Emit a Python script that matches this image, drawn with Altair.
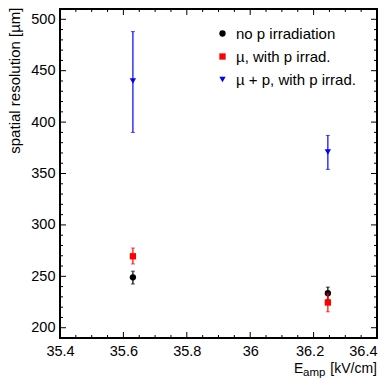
import altair as alt
import pandas as pd

# ---- data ----
x_vals = [35.63, 36.245]
series_names = ["no p irradiation", "µ, with p irrad.", "µ + p, with p irrad."]

res_black = [249.0, 233.5]
lo_black = [242.5, 227.5]
hi_black = [255.0, 239.5]

res_red = [269.5, 224.5]
lo_red = [262.0, 215.5]
hi_red = [277.5, 233.0]

res_blue = [440.0, 371.0]
lo_blue = [390.0, 354.0]
hi_blue = [488.0, 387.0]

x_major = [35.4, 35.6, 35.8, 36.0, 36.2, 36.4]
x_minor = [35.45, 35.5, 35.55, 35.65, 35.7, 35.75, 35.85, 35.9, 35.95,
           36.05, 36.1, 36.15, 36.25, 36.3, 36.35]
y_major = [200, 250, 300, 350, 400, 450, 500]
y_minor = [210, 220, 230, 240, 260, 270, 280, 290, 310, 320, 330, 340,
           360, 370, 380, 390, 410, 420, 430, 440, 460, 470, 480, 490]

# ---- styling ----
FONT = "Liberation Sans"
W, H = 317, 329
colors = ["#000000", "#ff0000", "#0000ff"]
shapes = ["circle", "square", "triangle-down"]
MAJ, MIN = 6, 3

xscale = alt.Scale(domain=[35.4, 36.4], nice=False, zero=False)
yscale = alt.Scale(domain=[190, 510], nice=False, zero=False)

xaxis = alt.Axis(values=x_major, format="~g", title=None, grid=False, ticks=False,
                 domain=False, labelFont=FONT, labelFontSize=14.5, labelColor="black",
                 labelPadding=6, labelFlush=False, labelOverlap=False, labelBound=False,
                 labelAlign={"condition": {"test": "datum.value >= 36.35", "value": "right"},
                             "value": "center"},
                 labelOffset={"condition": {"test": "abs(datum.value - 36.2) < 0.01", "value": -4},
                              "value": 0})
yaxis = alt.Axis(values=y_major, title="spatial resolution [µm]", grid=False, ticks=False,
                 domain=False, labelFont=FONT, labelFontSize=14.5, labelColor="black",
                 labelPadding=5, labelOverlap=False, titleFont=FONT, titleFontSize=15,
                 titleFontWeight="normal", titleColor="black", titleAngle=-90,
                 titleAlign="right", titleBaseline="alphabetic", titleX=-41, titleY=-2)


def X(field):
    return alt.X(field, type="quantitative", scale=xscale, axis=xaxis)


def Y(field):
    return alt.Y(field, type="quantitative", scale=yscale, axis=yaxis)


cscale = alt.Scale(domain=series_names, range=colors)
sscale = alt.Scale(domain=series_names, range=shapes)
leg = alt.Legend(orient="none", legendX=155, legendY=17, title=None, labelFont=FONT,
                 labelFontSize=15, labelColor="black", symbolSize=40, labelOffset=6,
                 rowPadding=7, padding=0, symbolStrokeWidth=0, direction="vertical")

layers = []

# tick marks (inside, on all four sides)
xmaj = pd.DataFrame({"v": x_major})
xmin = pd.DataFrame({"v": x_minor})
ymaj = pd.DataFrame({"v": y_major})
ymin = pd.DataFrame({"v": y_minor})
for df, L in [(xmaj, MAJ), (xmin, MIN)]:
    layers.append(alt.Chart(df).mark_rule(color="black", strokeWidth=1).encode(
        x=X("v"), y=alt.value(H), y2=alt.value(H - L)))
    layers.append(alt.Chart(df).mark_rule(color="black", strokeWidth=1).encode(
        x=X("v"), y=alt.value(0), y2=alt.value(L)))
for df, L in [(ymaj, MAJ), (ymin, MIN)]:
    layers.append(alt.Chart(df).mark_rule(color="black", strokeWidth=1).encode(
        y=Y("v"), x=alt.value(0), x2=alt.value(L)))
    layers.append(alt.Chart(df).mark_rule(color="black", strokeWidth=1).encode(
        y=Y("v"), x=alt.value(W), x2=alt.value(W - L)))

# series
for name, col, res, lo, hi in [
    (series_names[0], colors[0], res_black, lo_black, hi_black),
    (series_names[1], colors[1], res_red, lo_red, hi_red),
    (series_names[2], colors[2], res_blue, lo_blue, hi_blue),
]:
    df = pd.DataFrame({"x": x_vals, "v": res, "lo": lo, "hi": hi, "series": [name] * len(x_vals)})
    base = alt.Chart(df)
    layers.append(base.mark_rule(color=col, strokeWidth=1.2).encode(
        x=X("x"), y=Y("lo"), y2="hi"))
    layers.append(base.mark_tick(color=col, orient="horizontal", size=4, thickness=1).encode(
        x=X("x"), y=Y("lo")))
    layers.append(base.mark_tick(color=col, orient="horizontal", size=4, thickness=1).encode(
        x=X("x"), y=Y("hi")))
    layers.append(base.mark_point(filled=True, size=40, opacity=1).encode(
        x=X("x"), y=Y("v"),
        color=alt.Color("series:N", scale=cscale, legend=leg),
        shape=alt.Shape("series:N", scale=sscale, legend=leg)))

# x-axis title with subscript
tdf = pd.DataFrame({"t": ["E", "amp", "[kV/cm]"]})
layers.append(alt.Chart(tdf).transform_filter("datum.t == 'E'").mark_text(
    font=FONT, fontSize=14, align="left", baseline="alphabetic", color="black").encode(
    text="t:N", x=alt.value(234), y=alt.value(364)))
layers.append(alt.Chart(tdf).transform_filter("datum.t == 'amp'").mark_text(
    font=FONT, fontSize=11.5, align="left", baseline="alphabetic", color="black").encode(
    text="t:N", x=alt.value(243), y=alt.value(367)))
layers.append(alt.Chart(tdf).transform_filter("datum.t == '[kV/cm]'").mark_text(
    font=FONT, fontSize=14, align="right", baseline="alphabetic", color="black").encode(
    text="t:N", x=alt.value(W), y=alt.value(364)))

chart = alt.layer(*layers).properties(
    width=W, height=H,
    autosize=alt.AutoSizeParams(type="none"),
    padding={"left": 60, "top": 9, "right": 388 - 60 - W, "bottom": 379 - 9 - H},
    background="white",
).configure_view(stroke="black", strokeWidth=2)

chart.save("out.html", embed_options={"renderer": "svg", "actions": False})
